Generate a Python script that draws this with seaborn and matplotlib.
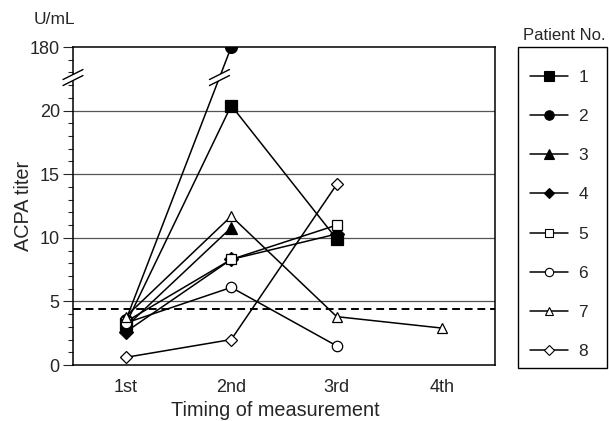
import numpy as np
import pandas as pd
import seaborn as sns
import matplotlib.pyplot as plt
from matplotlib.patches import Rectangle, Polygon

# ---- data (U/mL) ----
visit_labels = ['1st', '2nd', '3rd', '4th']
patients = ['1', '2', '3', '4', '5', '6', '7', '8']

p1 = [3.2, 20.4, 9.9]
p2 = [3.5, 180.0]
p3 = [3.0, 10.8]
p4 = [2.6, 8.3, 10.3]
p5 = [3.4, 8.3, 11.0]
p6 = [3.3, 6.1, 1.5]
p7 = [3.8, 11.7, 3.8, 2.9]
p8 = [0.6, 2.0, 14.2]
series = [p1, p2, p3, p4, p5, p6, p7, p8]

markers = ['s', 'o', '^', 'D', 's', 'o', '^', 'D']
filled = [True, True, True, True, False, False, False, False]
cutoff = 4.4

y_ticks = [0, 5, 10, 15, 20, 180]
y_break = 22.5


def squeeze(v):
    """broken axis: linear up to the break, then jumps so that 180 sits at 25"""
    v = np.asarray(v, dtype=float)
    return np.where(v <= y_break, v, y_break + (v - 177.5))


rows = []
for pid, vals in zip(patients, series):
    for i, v in enumerate(vals):
        rows.append({'patient': pid, 'visit': i + 1, 'titer': v})
df = pd.DataFrame(rows)
df['y'] = squeeze(df['titer'])

sns.set_style('white')
plt.rcParams['font.family'] = ['Liberation Sans', 'DejaVu Sans']

fig = plt.figure(figsize=(6.09, 4.21), dpi=100)
ax = fig.add_axes([73 / 609, 1 - 365 / 421, (495 - 73) / 609, (365 - 47) / 421])

# grid lines
for g in [5, 10, 15, 20]:
    ax.axhline(g, color='#555555', lw=0.9, zorder=0)
ax.axhline(cutoff, color='black', lw=1.4, ls=(0, (4, 2.5)), zorder=1)

handles = []
for pid, m, f in zip(patients, markers, filled):
    sub = df[df['patient'] == pid]
    ms = 8.5 if f else 7.5
    if m == 'D':
        ms -= 1.5
    sns.lineplot(data=sub, x='visit', y='y', ax=ax, color='black', lw=1.1,
                 marker=m, markersize=ms, markerfacecolor='black' if f else 'white',
                 markeredgecolor='black', markeredgewidth=0.9, zorder=3,
                 legend=False)
    h, = ax.plot([], [], color='black', lw=1.1, marker=m,
                 markersize=ms * 0.8, markerfacecolor='black' if f else 'white',
                 markeredgecolor='black', markeredgewidth=0.8)
    handles.append(h)

ax.set_xlim(0.5, 4.5)
ax.set_ylim(0, 25)

ax.set_xticks([1, 2, 3, 4])
ax.set_xticklabels(visit_labels, fontsize=13)
ax.set_xticks([0.5, 4.5], minor=True)
ax.tick_params(axis='x', which='major', length=0, pad=10)
ax.tick_params(axis='x', which='minor', length=6, width=0.8, direction='out')

ax.set_yticks(squeeze(y_ticks))
ax.set_yticklabels([str(t) for t in y_ticks], fontsize=13)
ax.set_yticks([v for v in range(1, 25) if v % 5 != 0], minor=True)
ax.tick_params(axis='y', which='major', length=7, width=0.8, direction='out',
               left=True, pad=2.5)
ax.tick_params(axis='y', which='minor', length=3.5, width=0.8, direction='out', left=True)

for s in ax.spines.values():
    s.set_color('black')
    s.set_linewidth(1.1)

ax.set_xlabel('Timing of measurement', fontsize=14.3)
ax.xaxis.set_label_coords((275 - 73) / 422, -(401 - 365) / 318)
ax.set_ylabel('ACPA titer', fontsize=14.3)
ax.yaxis.set_label_coords(-(73 - 33) / 422, 0.5)
fig.text(54 / 609, 1 - 20 / 421, 'U/mL', fontsize=12.5, ha='center', va='center')


# break marks: on the y axis and on patient 2's line
def break_mark(xc, yc):
    disp = ax.transData.transform((xc, yc))
    dx, dy, gap = 10, 5, 3
    pts = []
    for off in (-gap, gap):
        p0 = disp + np.array([-dx, -dy + off])
        p1_ = disp + np.array([dx, dy + off])
        pts.append((p0, p1_))
    inv = ax.transData.inverted()
    poly = [pts[0][0], pts[0][1], pts[1][1], pts[1][0]]
    ax.add_patch(Polygon(inv.transform(poly), closed=True, facecolor='white',
                         edgecolor='none', zorder=5, clip_on=False))
    for a, b in pts:
        ab = inv.transform([a, b])
        ax.plot(ab[:, 0], ab[:, 1], color='black', lw=1.0, zorder=6, clip_on=False)


yb = 22.6
break_mark(0.5, yb)
x_line = 1 + (yb - squeeze(p2[0])) / (squeeze(p2[1]) - squeeze(p2[0]))
break_mark(float(x_line), yb)

# legend with its box and title outside
fig.add_artist(Rectangle((518 / 609, 1 - 368 / 421), (607 - 518) / 609, (368 - 47) / 421,
                         transform=fig.transFigure, facecolor='white',
                         edgecolor='black', lw=1.0))
fig.text(564 / 609, 1 - 35 / 421, 'Patient No.', fontsize=12, ha='center', va='center')
fig.legend(handles, patients, loc='upper left', bbox_to_anchor=(530 / 609, 1 - 70 / 421),
           frameon=False, fontsize=12.5, handlelength=2.2, handletextpad=0.6,
           labelspacing=1.38, borderpad=0, borderaxespad=0)

fig.savefig('out.png', dpi=100)
